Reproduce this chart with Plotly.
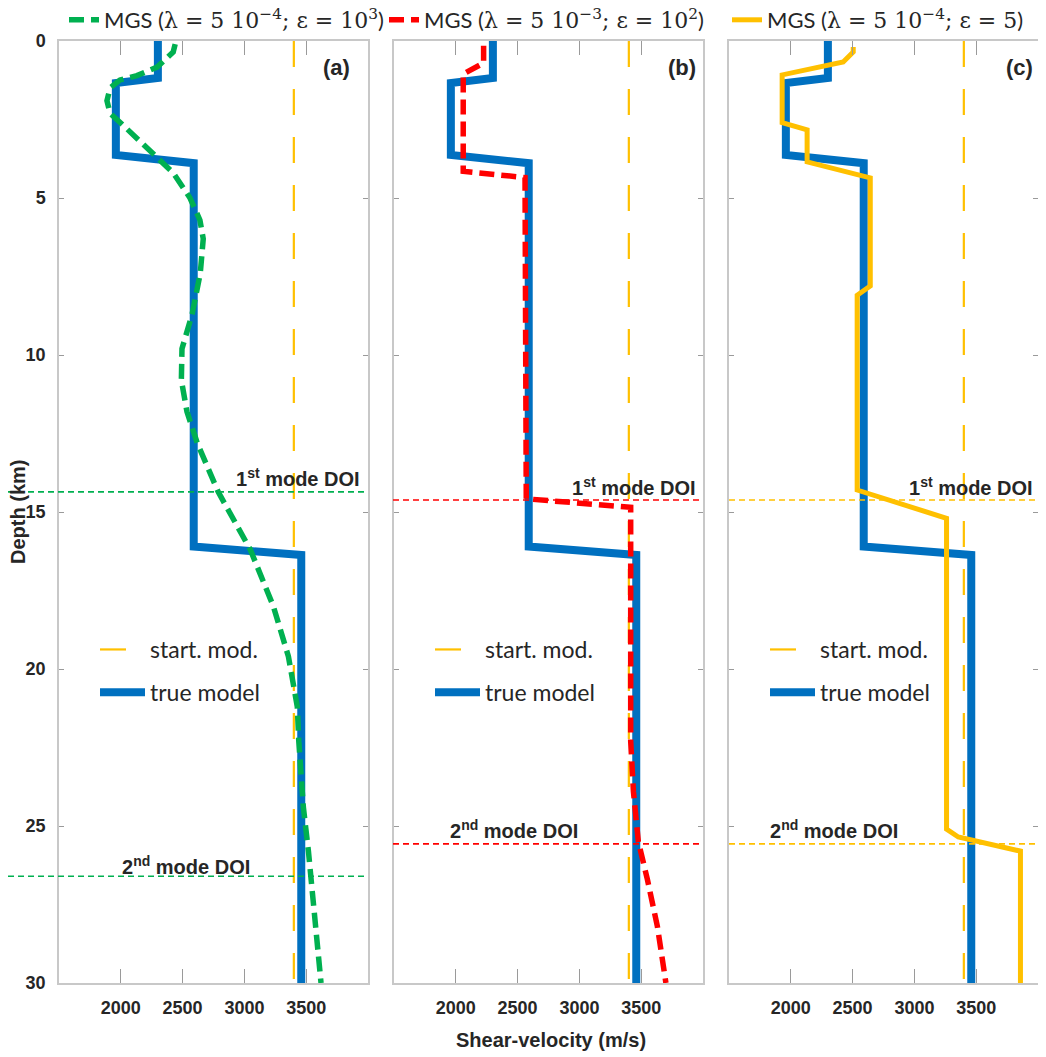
import plotly.graph_objects as go

# ---------------- data ----------------
depth_true = [0, 1.18, 1.34, 3.63, 3.89, 16.1, 16.37, 30]
vs_true = [2300, 2300, 1960, 1960, 2590, 2590, 3460, 3460]

depth_start = [0, 30]
vs_start = [3400, 3400]

depth_a = [0.1, 0.35, 0.83, 1.1, 1.24, 1.5, 1.9, 2.3, 2.8, 3.5, 4.2, 5.0, 5.7, 6.3,
           7.4, 8.7, 9.8, 10.8, 11.8, 12.8, 14.36, 16.2, 18.0, 19.6, 21.2, 22.3,
           24.4, 25.8, 27.6, 30]
vs_a = [2440, 2424, 2294, 2130, 1994, 1913, 1888, 1913, 2050, 2237, 2424, 2560, 2640,
        2667, 2643, 2577, 2495, 2490, 2535, 2618, 2788, 3048, 3234, 3356, 3428, 3440,
        3477, 3518, 3558, 3620]

depth_b = [0.15, 0.7, 1.05, 4.15, 4.35, 14.58, 14.85, 22.3, 23.9, 25.5, 26.7, 28.2, 30]
vs_b = [2225, 2225, 2060, 2060, 2560, 2570, 3415, 3415, 3437, 3477, 3550, 3631, 3700]

depth_c = [0.19, 0.35, 0.67, 1.08, 2.6, 2.83, 3.85, 4.36, 7.8, 8.1, 14.3, 15.2, 25.1,
           25.35, 25.8, 30]
vs_c = [2505, 2505, 2424, 1930, 1930, 2132, 2132, 2643, 2643, 2537, 2537, 3260, 3260,
        3355, 3858, 3858]

doi_a = [14.36, 26.6]
doi_b = [14.62, 25.57]
doi_c = [14.62, 25.57]

x_ticks = [2000, 2500, 3000, 3500]
y_ticks = [0, 5, 10, 15, 20, 25, 30]
panel_labels = ["(a)", "(b)", "(c)"]

MATH = "font-family:'DejaVu Serif'"
series_names = [
    f"MGS (<span style=\"{MATH}\">λ = 5 10<sup>−4</sup>; ε = 10<sup>3</sup></span>)",
    f"MGS (<span style=\"{MATH}\">λ = 5 10<sup>−3</sup>; ε = 10<sup>2</sup></span>)",
    f"MGS (<span style=\"{MATH}\">λ = 5 10<sup>−4</sup>; ε = 5</span>)",
]
series_colors = ["#00B050", "#FF0000", "#FFC000"]
series_dash = ["15px,7px", "15px,7px", "solid"]
series_width = [5.5, 5.5, 5]
series_depth = [depth_a, depth_b, depth_c]
series_vs = [vs_a, vs_b, vs_c]
dois = [doi_a, doi_b, doi_c]

BLUE = "#0070C0"
YEL = "#FFC000"
TXT = "#262626"

# page is rendered with an 8px body margin: work in page coordinates
OFF = 8
PAGE_W, PAGE_H = 1046, 1057
W, H = PAGE_W - OFF, PAGE_H - OFF
P_L, P_R, P_T, P_B = 59, 1038, 41, 983          # plot area in page coordinates
ML, MT = P_L - OFF, P_T - OFF
PW, PH = P_R - P_L, P_B - P_T
MR = W - ML - PW
MB = H - MT - PH


def px(xp):
    return (xp - P_L) / PW


def py(yp):
    return 1 - (yp - P_T) / PH


def cx(xp):
    return (xp - OFF) / W


def cy(yp):
    return 1 - (yp - OFF) / H


domains = [[px(59), px(368)], [px(394), px(703)], [px(729), px(1038)]]
top_legends = ["legend", "legend5", "legend6"]

fig = go.Figure()

for i in range(3):
    xa = "x" if i == 0 else f"x{i+1}"
    ya = "y" if i == 0 else f"y{i+1}"
    lg = f"legend{i+2}"
    fig.add_trace(go.Scatter(
        x=vs_start, y=depth_start, xaxis=xa, yaxis=ya, mode="lines",
        name="start. mod.", legend=lg, legendgroup="s",
        line=dict(color=YEL, width=2.2, dash="26px,22px"),
    ))
    fig.add_trace(go.Scatter(
        x=vs_true, y=depth_true, xaxis=xa, yaxis=ya, mode="lines",
        name="true model", legend=lg, legendgroup="t",
        line=dict(color=BLUE, width=8),
    ))
    fig.add_trace(go.Scatter(
        x=series_vs[i], y=series_depth[i], xaxis=xa, yaxis=ya, mode="lines",
        name=series_names[i], legend=top_legends[i],
        line=dict(color=series_colors[i], width=series_width[i], dash=series_dash[i]),
    ))

axis_font = dict(family="Liberation Sans, Arial, sans-serif", size=18, color=TXT, weight="bold")

for i in range(3):
    sfx = "" if i == 0 else str(i + 1)
    fig.layout[f"xaxis{sfx}"] = dict(
        domain=domains[i], range=[1500, 4000], tickvals=x_ticks,
        ticks="inside", ticklen=14, tickcolor="#9a9a9a", tickwidth=1.2,
        showline=True, linecolor="#c8c8c8", linewidth=1.5, mirror="ticks",
        showgrid=False, zeroline=False, tickfont=axis_font, automargin=False,
        ticklabelstandoff=8, anchor="y" + sfx,
    )
    fig.layout[f"yaxis{sfx}"] = dict(
        domain=[0, 1], range=[30, 0], tickvals=y_ticks,
        ticks="inside", ticklen=5, tickcolor="#9a9a9a",
        showline=True, linecolor="#c8c8c8", linewidth=1.5, mirror="ticks",
        showgrid=False, zeroline=False, tickfont=axis_font, automargin=False,
        showticklabels=(i == 0), ticklabelstandoff=8, anchor="x" + sfx,
    )

# DOI lines
doi_x = [[px(8), px(368)], [px(393), px(703)], [px(729), px(1046)]]
dash_doi = "6px,4px"
for i in range(3):
    ya = "y" if i == 0 else f"y{i+1}"
    for d in dois[i]:
        fig.add_shape(type="line", xref="paper", yref=ya,
                      x0=doi_x[i][0], x1=doi_x[i][1], y0=d, y1=d,
                      line=dict(color=series_colors[i], width=1.6, dash=dash_doi))

ann_font = dict(family="Liberation Sans, Arial, sans-serif", size=20, color=TXT, weight="bold")

# panel labels
lab_x = [352, 698, 1035]
for i in range(3):
    ya = "y" if i == 0 else f"y{i+1}"
    fig.add_annotation(text=panel_labels[i], xref="paper", yref=ya, x=px(lab_x[i]), y=0.85,
                       xanchor="right", yanchor="middle", showarrow=False,
                       font=dict(family="Liberation Sans, Arial, sans-serif", size=22,
                                 color=TXT, weight="bold"))

# DOI labels
first_right = [362, 698, 1035]
second_left = [120, 448, 768]
second_shift = [11, 14, 14]
for i in range(3):
    ya = "y" if i == 0 else f"y{i+1}"
    fig.add_annotation(text="1<sup>st</sup> mode DOI", xref="paper", yref=ya,
                       x=px(first_right[i]), y=dois[i][0], xanchor="right", yanchor="middle",
                       yshift=14, showarrow=False, font=ann_font)
    fig.add_annotation(text="2<sup>nd</sup> mode DOI", xref="paper", yref=ya,
                       x=px(second_left[i]), y=dois[i][1], xanchor="left", yanchor="middle",
                       yshift=second_shift[i], showarrow=False, font=ann_font)

# axis titles
fig.add_annotation(text="Shear-velocity (m/s)", xref="paper", yref="paper",
                   x=px(551), y=py(1040), xanchor="center", yanchor="middle",
                   showarrow=False, font=ann_font)
fig.add_annotation(text="Depth (km)", xref="paper", yref="paper",
                   x=px(18), y=py(512), xanchor="center", yanchor="middle",
                   textangle=-90, showarrow=False, font=ann_font)

top_font = dict(family="Lato, 'Noto Sans', sans-serif", size=22, color=TXT)
leg_font = dict(family="Lato, 'Noto Sans', sans-serif", size=23, color=TXT)

fig.update_layout(
    width=W, height=H,
    margin=dict(l=ML, r=MR, t=MT, b=MB, autoexpand=False),
    paper_bgcolor="white", plot_bgcolor="white",
    showlegend=True,
)
top_x = [64, 384, 727]
for i in range(3):
    fig.layout[top_legends[i]] = dict(
        orientation="h", xref="container", yref="container",
        x=cx(top_x[i]), y=cy(20), xanchor="left", yanchor="middle",
        font=top_font, bgcolor="rgba(0,0,0,0)", itemwidth=30,
    )
inner_leg_x = [95, 430, 765]
for i in range(3):
    fig.layout[f"legend{i+2}"] = dict(
        x=px(inner_leg_x[i]), y=py(628), xanchor="left", yanchor="top",
        font=leg_font, bgcolor="rgba(0,0,0,0)", itemwidth=45,
        traceorder="grouped", tracegroupgap=10,
    )

fig.write_html("out.html")
